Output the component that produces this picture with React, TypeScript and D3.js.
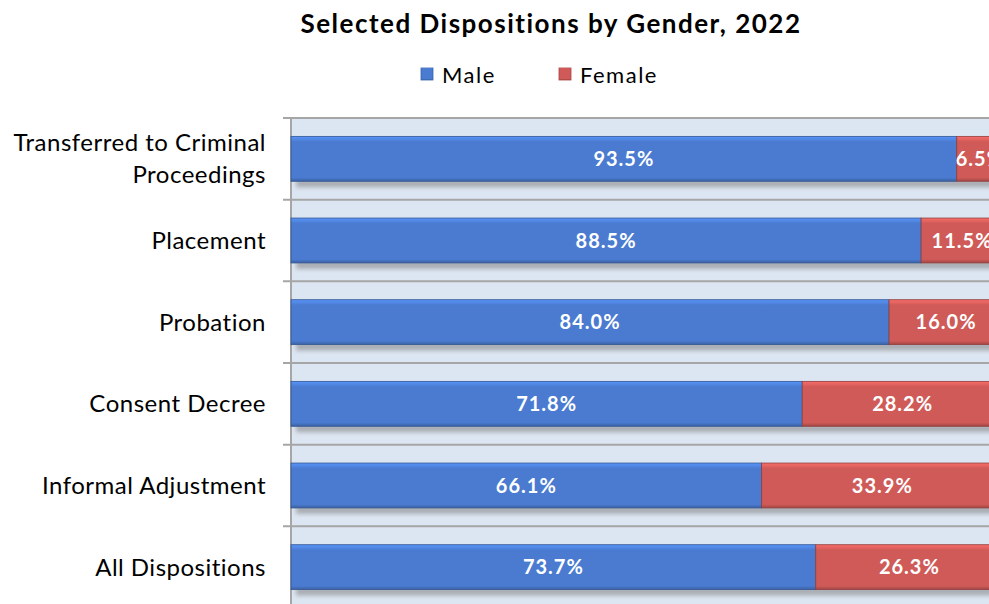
import * as d3 from 'd3'

const categories = [
  ['Transferred to Criminal', 'Proceedings'],
  ['Placement'],
  ['Probation'],
  ['Consent Decree'],
  ['Informal Adjustment'],
  ['All Dispositions'],
]
const maleValues = [93.5, 88.5, 84.0, 71.8, 66.1, 73.7]
const femaleValues = [6.5, 11.5, 16.0, 28.2, 33.9, 26.3]
const seriesNames = ['Male', 'Female']

const W = 989
const H = 604
const FONT = 'Lato, "Open Sans", sans-serif'
const MALE = '#4a7bd0'
const FEMALE = '#cf5a57'

export default function App() {
  const keys = categories.map(c => c.join(' '))
  const x = d3.scaleLinear().domain([0, 100]).range([291, 1003])
  const y = d3.scaleBand().domain(keys).range([118, 608]).paddingInner(0.45).paddingOuter(0.225)
  const step = y.step()
  const gridYs = d3.range(0, categories.length + 1).map(i => 118 + i * step)

  const rows = keys.map((k, i) => ({
    key: k,
    label: categories[i],
    segs: [
      { name: seriesNames[0], x0: 0, x1: maleValues[i], color: MALE },
      { name: seriesNames[1], x0: maleValues[i], x1: maleValues[i] + femaleValues[i], color: FEMALE },
    ],
  }))

  const bh = y.bandwidth()

  return (
    <svg width={W} height={H} style={{ position: 'absolute', left: 0, top: 0, background: '#fff' }} fontFamily={FONT}>
      <defs>
        <filter id="shadowBlur" x="-10%" y="-50%" width="120%" height="200%">
          <feGaussianBlur stdDeviation="2" />
        </filter>
        {[['m', MALE], ['f', FEMALE]].map(([id, c]) => (
          <linearGradient key={id} id={`grad-${id}`} x1="0" y1="0" x2="0" y2="1">
            <stop offset="0%" stopColor={d3.color(c)!.brighter(0.5).formatHex()} />
            <stop offset="6%" stopColor={d3.color(c)!.brighter(0.3).formatHex()} />
            <stop offset="12%" stopColor={c} />
            <stop offset="92%" stopColor={c} />
            <stop offset="100%" stopColor={d3.color(c)!.darker(0.7).formatHex()} />
          </linearGradient>
        ))}
      </defs>

      {/* title */}
      <text x={551} y={33} textAnchor="middle" fontSize={26} fontWeight="bold" letterSpacing={1.5} fill="#000">
        Selected Dispositions by Gender, 2022
      </text>

      {/* legend */}
      <rect x={421} y={68} width={12} height={12} fill="url(#grad-m)" stroke="#3a64ad" strokeWidth={0.8} />
      <text x={442} y={83} fontSize={22} letterSpacing={1.5} fill="#000">Male</text>
      <rect x={559} y={68} width={12} height={12} fill="url(#grad-f)" stroke="#a84442" strokeWidth={0.8} />
      <text x={580} y={83} fontSize={22} letterSpacing={1.5} fill="#000">Female</text>

      {/* plot area */}
      <rect x={291} y={118} width={W - 291} height={H - 118} fill="#dce6f2" />

      {gridYs.map((gy, i) => (
        <line key={i} x1={283} x2={W} y1={gy} y2={gy} stroke="#a6a6a6" strokeWidth={2} />
      ))}
      <line x1={291} x2={291} y1={118} y2={H} stroke="#a6a6a6" strokeWidth={2} />

      {/* shadows */}
      {rows.map(r => (
        <rect
          key={'sh' + r.key}
          x={x(0) + 5}
          y={y(r.key)! + bh - 2}
          width={x(100) - x(0)}
          height={8}
          fill="#7f7f7f"
          opacity={0.55}
          filter="url(#shadowBlur)"
        />
      ))}

      {/* bars */}
      {rows.map(r =>
        r.segs.map(s => (
          <rect
            key={r.key + s.name}
            x={x(s.x0)}
            y={y(r.key)}
            width={x(s.x1) - x(s.x0)}
            height={bh}
            fill={`url(#grad-${s.name === 'Male' ? 'm' : 'f'})`}
            stroke={d3.color(s.color)!.darker(1).formatHex()}
            strokeWidth={0.8}
          />
        ))
      )}

      {/* data labels */}
      {rows.map(r =>
        r.segs.map(s => (
          <text
            key={'l' + r.key + s.name}
            x={(x(s.x0) + x(s.x1)) / 2}
            y={y(r.key)! + bh / 2}
            dy="0.36em"
            textAnchor="middle"
            fontSize={20}
            fontWeight="bold"
            letterSpacing={1}
            fill="#fff"
          >
            {(s.x1 - s.x0).toFixed(1)}%
          </text>
        ))
      )}

      {/* category labels */}
      {rows.map(r => {
        const cy = y(r.key)! + bh / 2
        const n = r.label.length
        return (
          <text key={'c' + r.key} x={266} y={cy} textAnchor="end" fontSize={24} letterSpacing={0.5} fill="#000">
            {r.label.map((line, j) => (
              <tspan key={j} x={266} y={cy + (j - (n - 1) / 2) * 32} dy="0.35em">
                {line}
              </tspan>
            ))}
          </text>
        )
      })}
    </svg>
  )
}
